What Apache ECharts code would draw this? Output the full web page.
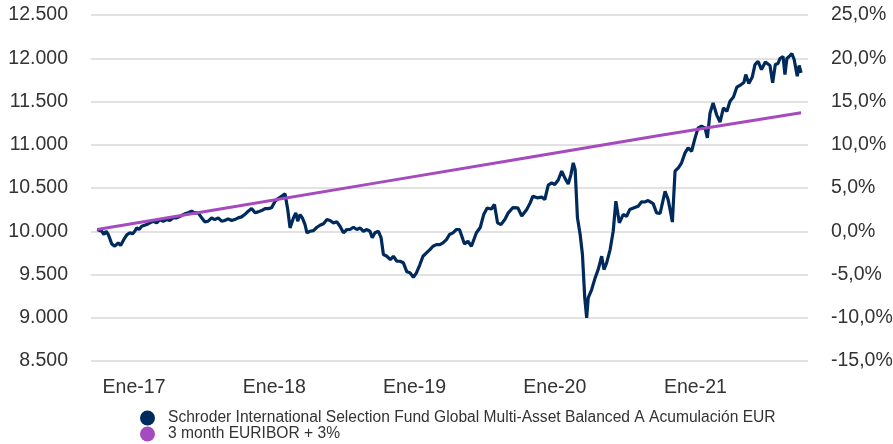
<!DOCTYPE html>
<html>
<head>
<meta charset="utf-8">
<script src="https://cdn.jsdelivr.net/npm/echarts@6/dist/echarts.min.js"></script>
<style>
  html, body { margin: 0; padding: 0; background: #fff; }
  #chart { width: 893px; height: 444px; }
</style>
</head>
<body>
<div id="chart"></div>
<script>
var fundName = 'Schroder International Selection Fund Global Multi-Asset Balanced A Acumulación EUR';
var benchName = '3 month EURIBOR + 3%';

var fundDates = ['2016-09-27','2016-10-09','2016-10-15','2016-10-20','2016-10-26','2016-11-04','2016-11-12','2016-11-21','2016-11-27','2016-12-01',
  '2016-12-08','2016-12-14','2016-12-21','2016-12-28','2017-01-03','2017-01-08','2017-01-14','2017-01-21','2017-01-25','2017-02-03',
  '2017-02-11','2017-02-20','2017-03-01','2017-03-09','2017-03-18','2017-03-27','2017-04-04','2017-04-13','2017-04-22','2017-05-01',
  '2017-05-13','2017-05-22','2017-05-31','2017-06-08','2017-06-17','2017-06-26','2017-07-04','2017-07-13','2017-07-22','2017-07-30',
  '2017-08-08','2017-08-17','2017-08-25','2017-09-03','2017-09-12','2017-09-20','2017-09-29','2017-10-08','2017-10-16','2017-10-25',
  '2017-11-03','2017-11-12','2017-11-20','2017-11-29','2017-12-08','2017-12-16','2017-12-25','2018-01-03','2018-01-11','2018-01-20',
  '2018-01-29','2018-02-05','2018-02-11','2018-02-20','2018-02-26','2018-03-03','2018-03-09','2018-03-15','2018-03-22','2018-03-27',
  '2018-04-04','2018-04-13','2018-04-22','2018-04-30','2018-05-09','2018-05-18','2018-05-26','2018-06-04','2018-06-13','2018-06-21',
  '2018-06-30','2018-07-09','2018-07-17','2018-07-26','2018-08-04','2018-08-12','2018-08-21','2018-08-30','2018-09-07','2018-09-13',
  '2018-09-20','2018-09-29','2018-10-06','2018-10-12','2018-10-21','2018-10-30','2018-11-07','2018-11-16','2018-11-24','2018-12-03',
  '2018-12-12','2018-12-20','2018-12-29','2019-01-06','2019-01-15','2019-01-23','2019-02-01','2019-02-10','2019-02-18','2019-02-27',
  '2019-03-08','2019-03-16','2019-03-25','2019-04-02','2019-04-11','2019-04-20','2019-04-28','2019-05-07','2019-05-11','2019-05-20',
  '2019-05-29','2019-06-11','2019-06-21','2019-06-30','2019-07-09','2019-07-20','2019-07-28','2019-08-05','2019-08-14','2019-08-24',
  '2019-09-02','2019-09-14','2019-09-27','2019-10-07','2019-10-20','2019-10-29','2019-11-05','2019-11-16','2019-11-28','2019-12-06',
  '2019-12-15','2019-12-24','2020-01-01','2020-01-10','2020-01-19','2020-01-27','2020-02-05','2020-02-12','2020-02-18','2020-02-23',
  '2020-02-29','2020-03-07','2020-03-13','2020-03-19','2020-03-24','2020-03-28','2020-04-06','2020-04-15','2020-04-23','2020-05-02',
  '2020-05-08','2020-05-15','2020-05-24','2020-06-01','2020-06-08','2020-06-17','2020-06-27','2020-07-06','2020-07-14','2020-07-27',
  '2020-08-05','2020-08-14','2020-08-22','2020-08-31','2020-09-13','2020-09-22','2020-10-01','2020-10-14','2020-10-22','2020-10-27',
  '2020-11-02','2020-11-09','2020-11-18','2020-11-26','2020-12-05','2020-12-13','2020-12-22','2020-12-31','2021-01-08','2021-01-17',
  '2021-01-26','2021-02-01','2021-02-08','2021-02-16','2021-02-25','2021-03-06','2021-03-15','2021-03-24','2021-04-01','2021-04-10',
  '2021-04-19','2021-04-30','2021-05-07','2021-05-12','2021-05-20','2021-05-29','2021-06-05','2021-06-13','2021-06-22','2021-07-02',
  '2021-07-14','2021-07-21','2021-07-28','2021-08-04','2021-08-09','2021-08-17','2021-08-22','2021-08-27','2021-09-02','2021-09-09',
  '2021-09-15','2021-09-20','2021-09-23','2021-09-28','2021-10-03'];

var fundValues = [10020,10000,9962,10000,9962,9854,9827,9866,9835,9827,
  9924,9962,9982,9970,10000,10039,10020,10058,10039,10077,
  10097,10116,10097,10135,10116,10135,10124,10155,10155,10173,
  10201,10213,10231,10213,10213,10155,10109,10116,10155,10135,
  10155,10116,10124,10143,10124,10135,10155,10166,10193,10231,
  10262,10213,10224,10239,10262,10262,10271,10347,10378,10405,
  10432,10251,10039,10155,10213,10116,10193,10155,10077,9982,
  10000,10008,10046,10069,10086,10135,10124,10097,10109,10058,
  9982,10020,10020,10046,10020,10039,10000,10020,10000,9924,
  9982,10000,9924,9731,9711,9673,9711,9653,9653,9635,
  9531,9519,9468,9519,9615,9711,9750,9788,9827,9846,
  9846,9866,9904,9962,9982,10020,10020,9904,9854,9884,
  9827,9982,10043,10193,10268,10257,10309,10097,10077,10135,
  10213,10274,10271,10176,10251,10328,10405,10386,10395,10366,
  10534,10560,10540,10592,10696,10617,10546,10655,10791,10713,
  10155,9962,9731,9230,8999,9230,9326,9461,9557,9711,
  9557,9635,9788,10000,10347,10097,10193,10173,10251,10274,
  10289,10340,10338,10355,10320,10213,10205,10462,10366,10251,
  10106,10694,10736,10791,10906,10964,10925,11077,11195,11214,
  11195,11080,11366,11484,11349,11262,11427,11387,11503,11551,
  11667,11696,11719,11812,11708,11783,11927,11965,11869,11956,
  11916,11716,11927,11939,11997,12020,11812,11997,12020,12054,
  11985,11997,11792,11916,11831];

var benchDates = ['2016-09-27','2017-09-29','2018-09-28','2019-09-27','2020-09-25','2021-10-03'];
var benchValues = [10020,10291,10562,10833,11104,11369];

var dom = document.getElementById('chart');
var myChart = echarts.init(dom);

function pairs(dates, values) {
  return dates.map(function (d, i) { return [d, values[i]]; });
}

var font = 'Liberation Sans, Arial, sans-serif';

// one legend per row, so they stack like the original
function legendRow(name, top) {
  return {
    left: 135,
    top: top,
    itemWidth: 31,
    itemHeight: 15,
    icon: 'circle',
    textStyle: { fontFamily: font, fontSize: 15.6, color: '#333' },
    data: [name]
  };
}

var option = {
  animation: false,
  grid: { left: 91, right: 85, top: 15, bottom: 83, outerBoundsMode: 'none' },
  legend: [legendRow(fundName, 405), legendRow(benchName, 421)],
  xAxis: {
    type: 'time',
    min: '2016-09-11',
    max: '2021-10-21',
    splitNumber: 5,
    axisLine: { show: false },
    axisTick: { show: false },
    splitLine: { show: false },
    axisLabel: {
      margin: 17,
      fontFamily: font,
      fontSize: 19.5,
      color: '#333',
      formatter: function (value) {
        var d = new Date(value);
        if (d.getMonth() === 0 && d.getDate() === 1) {
          return 'Ene-' + String(d.getFullYear()).slice(2);
        }
        return '';
      }
    }
  },
  yAxis: [{
    type: 'value',
    min: 8500,
    max: 12500,
    interval: 500,
    axisLine: { show: false },
    axisTick: { show: false },
    splitLine: { lineStyle: { color: '#e2e2e2', width: 2 } },
    axisLabel: {
      margin: 23,
      fontFamily: font,
      fontSize: 19.5,
      color: '#333',
      formatter: function (v) {
        return String(v).replace(/\B(?=(\d{3})+(?!\d))/g, '.');
      }
    }
  }, {
    type: 'value',
    min: -15,
    max: 25,
    interval: 5,
    position: 'right',
    axisLine: { show: false },
    axisTick: { show: false },
    splitLine: { show: false },
    axisLabel: {
      margin: 23,
      fontFamily: font,
      fontSize: 19.5,
      color: '#333',
      formatter: function (v) {
        return v.toFixed(1).replace('.', ',') + '%';
      }
    }
  }],
  series: [{
    name: fundName,
    type: 'line',
    showSymbol: false,
    color: '#002a5c',
    lineStyle: { width: 3.2, color: '#002a5c' },
    data: pairs(fundDates, fundValues)
  }, {
    name: benchName,
    type: 'line',
    showSymbol: false,
    color: '#a54bbf',
    lineStyle: { width: 3, color: '#a54bbf' },
    data: pairs(benchDates, benchValues)
  }]
};

myChart.setOption(option);
</script>
</body>
</html>
